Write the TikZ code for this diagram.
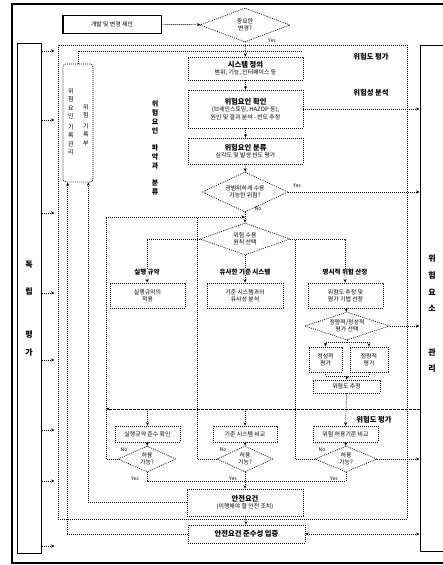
\documentclass[tikz,border=0pt]{standalone}
\usepackage{fontspec}
\setmainfont{Noto Sans CJK KR}
\usetikzlibrary{shapes.geometric,arrows.meta}
\newcommand\mytitle{\fontsize{7.3}{8.8}\selectfont\bfseries}
\newcommand\mysmall{\fontsize{5.9}{7.3}\selectfont}
\newcommand\mytiny{\fontsize{5}{6}\selectfont}
\newcommand\myvert{\fontsize{7}{9}\selectfont\bfseries}
\newcommand\mybig{\fontsize{8}{9}\selectfont\bfseries}
\begin{document}
\begin{tikzpicture}[x=1pt,y=-1pt,
  dot/.style={line width=0.7pt,dash pattern=on 0.9pt off 1.1pt},
  dsh/.style={line width=0.7pt,dash pattern=on 2.5pt off 1.5pt},
  tip/.style={-{Stealth[length=3.5pt,width=3pt]}},
  arr/.style={dot,tip},
  box/.style={draw,dot,rectangle,inner sep=1pt,align=center,font=\mysmall},
  dia/.style={draw,dot,diamond,aspect=2.2,inner sep=0pt,align=center,font=\mysmall},
  lbl/.style={inner sep=0pt,align=center,font=\mytitle},
  vtxt/.style={inner sep=0pt,align=center,font=\myvert},
  big/.style={inner sep=0pt,font=\mybig},
  small/.style={inner sep=0pt,font=\mytiny}]
\useasboundingbox (0,0) rectangle (443,565);

% outer frame
\draw[line width=1.6pt] (443,4) -- (12,4) -- (12,563) -- (443,563);

% side boxes
\node[draw,line width=1pt,minimum width=24pt,minimum height=510pt,inner sep=0pt] (IA) at (29,298) {};
\node[draw,line width=1pt,minimum width=25pt,minimum height=506pt,inner sep=0pt] (RB) at (432.5,298) {};
\node[big] (ia1) at (29,265) {독};
\node[big] (ia2) at (29,291) {립};
\node[big] (ia3) at (29,335) {평};
\node[big] (ia4) at (29,352) {가};
\node[big] (rb1) at (432,258) {위};
\node[big] (rb2) at (432,275) {험};
\node[big] (rb3) at (432,292) {요};
\node[big] (rb4) at (432,308) {소};
\node[big] (rb5) at (432,352) {관};
\node[big] (rb6) at (432,369) {리};

% process frame
\node[draw,dot,minimum width=349pt,minimum height=474pt,inner sep=0pt] (FR) at (232.5,282) {};
\node[lbl] (lab1) at (371,57) {위험도 평가};
\node[lbl] (lab2) at (371,93) {위험성 분석};
\node[lbl] (lab3) at (374,420) {위험도 평가};

% start
\node[draw,line width=0.8pt,minimum width=98pt,minimum height=18pt,inner sep=0pt,font=\mysmall] (S) at (112,24) {개발 및 변경 제안};
\draw[line width=1.4pt] (S.north west) -- (S.south west) -- (S.south east);
\node[dia,minimum width=90pt,minimum height=34pt] (T) at (245,25) {중요한\\변경?};
\node[small] (yT) at (272,41) {Yes};

% record box
\node[draw,dot,rounded corners=3pt,minimum width=30pt,minimum height=118pt,inner sep=0pt] (R) at (78,123) {};
\node[inner sep=0pt,align=center,font=\fontsize{6}{8.5}\selectfont] (R1) at (71,122) {위\\험\\요\\인\\[2pt]기\\록\\관\\리};
\node[inner sep=0pt,align=center,font=\fontsize{6}{8.5}\selectfont] (R2) at (86,125) {위\\험\\[2pt]기\\록\\부};
\node[vtxt] (VL) at (155,147.5) {위\\험\\요\\인\\[8pt]파\\악\\과\\[8pt]분\\류};

% main column
\node[box,minimum width=115pt,minimum height=23pt] (A) at (245.5,68.5) {{\mytitle 시스템 정의}\\범위, 기능, 인터페이스 등};
\node[box,minimum width=115pt,minimum height=38pt] (B) at (245.5,109) {{\mytitle 위험요인 확인}\\(브레인스토밍, HAZOP 등),\\원인 및 결과 분석 - 빈도 추정};
\node[box,minimum width=115pt,minimum height=26pt] (C) at (245.5,151) {{\mytitle 위험요인 분류}\\심각도 및 발생 빈도 평가};
\node[dia,minimum width=86pt,minimum height=40pt] (D) at (245,192) {광범위하게 수용\\가능한 위험?};
\node[small] (yD) at (297,186) {Yes};
\node[small] (nD) at (258,209) {No};
\node[dia,minimum width=90pt,minimum height=32pt] (E) at (245,239) {위험 수용\\원칙 선택};

% branches
\node[lbl,font=\fontsize{6.5}{8}\selectfont\bfseries] (L1) at (147,272) {실행 규약};
\node[lbl,font=\fontsize{6.5}{8}\selectfont\bfseries] (L2) at (245,272) {유사한 기준 시스템};
\node[lbl,font=\fontsize{6.5}{8}\selectfont\bfseries] (L3) at (345,272) {명시적 위험 산정};
\node[box,minimum width=75pt,minimum height=25pt] (F) at (147.5,295.5) {실행규약의\\적용};
\node[box,minimum width=76pt,minimum height=25pt] (G) at (245,295.5) {기준 시스템과의\\유사성 분석};
\node[box,minimum width=75pt,minimum height=25pt] (H) at (345.5,295.5) {위험도 추정 및\\평가 기법 선정};
\node[dia,aspect=3,minimum width=85pt,minimum height=28pt] (I) at (347,326) {정량적/정성적\\평가 선택};
\node[box,minimum width=33pt,minimum height=25pt] (J) at (325.5,359.5) {정성적\\평가};
\node[box,minimum width=38pt,minimum height=25pt] (K) at (369,359.5) {정량적\\평가};
\node[box,minimum width=67pt,minimum height=13pt] (LE) at (346.5,386.5) {위험도 추정};

% evaluation row
\node[box,minimum width=65pt,minimum height=16pt] (M1) at (147.5,434) {실행규약 준수 확인};
\node[box,minimum width=64pt,minimum height=16pt] (M2) at (245,434) {기준 시스템 비교};
\node[box,minimum width=65pt,minimum height=16pt] (M3) at (345.5,434) {위험 허용기준 비교};
\node[dia,minimum width=58pt,minimum height=26pt] (N1) at (147,459) {허용\\가능?};
\node[dia,minimum width=56pt,minimum height=26pt] (N2) at (245,459) {허용\\가능?};
\node[dia,minimum width=62pt,minimum height=26pt] (N3) at (346,459) {허용\\가능?};
\node[small] (nN1) at (124,450) {No};
\node[small] (nN2) at (223,450) {No};
\node[small] (nN3) at (322,450) {No};
\node[small] (yN1) at (135,479) {Yes};
\node[small] (yN2) at (233,479) {Yes};
\node[small] (yN3) at (334,479) {Yes};
\node[box,minimum width=116pt,minimum height=27pt] (P) at (245,502.5) {{\mytitle 안전요건}\\(이행해야 할 안전 조치)};
\node[box,minimum width=117pt,minimum height=18pt] (Q) at (246.5,534) {{\mytitle 안전요건 준수성 입증}};

% connectors
\draw[arr] (S) -- (T);
\draw[arr] (T) -- (A);
\draw[dot] (R.north) |- (303,51);
\draw[arr] (A) -- (B);
\draw[arr] (B) -- (C);
\draw[arr] (C) -- (D);
\draw[arr] (D) -- (E);
\draw[arr] (D.east) -- (RB.west |- D.east);
\draw[arr] (B.east) -- (RB.west |- B.east);
\draw[dot] (E.west) -| (L1.north);
\draw[dot] (E.south) -- (L2.north);
\draw[dot] (E.east) -| (L3.north);
\draw[arr] (L1) -- (F);
\draw[arr] (L2) -- (G);
\draw[arr] (L3) -- (H);
\draw[arr] (H) -- (I);
\coordinate (i1) at (347,342);
\coordinate (i2) at (347,376);
\draw[arr] (I.south) -- (i1) -| (J.north);
\draw[arr] (i1) -| (K.north);
\draw[dot] (J.south) |- (i2);
\draw[dot] (K.south) |- (i2);
\draw[arr] (i2) -- (LE.north);
\draw[arr] (I.east) -- (RB.west |- I.east);
\draw[arr] (LE.south) -- (M3.north);
\coordinate (d1) at (106,409);
\draw[dsh,tip] (RB.west |- d1) -- (d1);
\draw[arr] (M1.north |- d1) -- (M1.north);
\draw[arr] (M2.north |- d1) -- (M2.north);
\draw[arr] (M1) -- (N1);
\draw[arr] (M2) -- (N2);
\draw[arr] (M3) -- (N3);
\draw[arr] (N1.west) -| (106,217) -- (245,217);
\draw[dot] (N2.west) -| (197,217);
\draw[dot] (N3.west) -| (295,239);
\coordinate (y1) at (147,481);
\draw[dot] (N1.south) -- (N1.south |- y1) -- (N3.south |- y1) -- (N3.south);
\draw[arr] (N2.south) -- (P.north);
\draw[arr] (N3.east) -- (RB.west |- N3.east);
\draw[arr] (P) -- (Q);
\draw[arr] (P.west) -| ([xshift=-5pt]R.south east);
\draw[arr] (Q.west) -| ([xshift=5pt]R.south west);
\draw[dot,{Stealth[length=3.5pt,width=3pt]}-{Stealth[length=3.5pt,width=3pt]}] (Q.east) -- (RB.west |- Q.east);
\foreach \yy in {51,120,213,293,360,430,481,546}
  \draw[dot,tip] (IA.east |- 0,\yy) -- ++(13,0);
\end{tikzpicture}
\end{document}
